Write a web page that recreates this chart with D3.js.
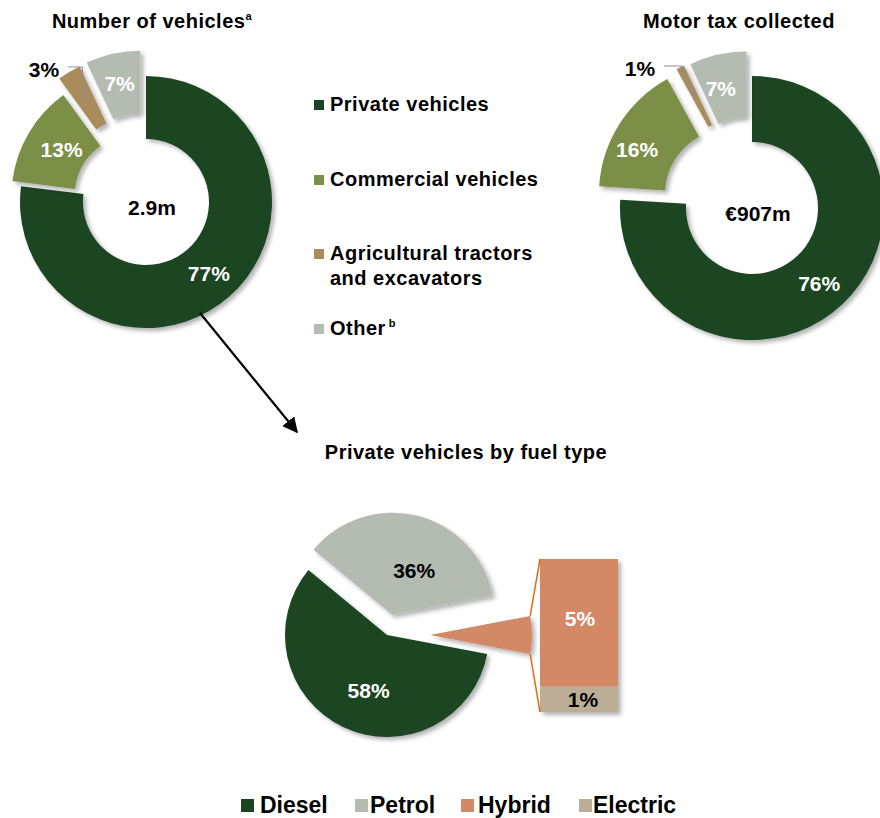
<!DOCTYPE html>
<html>
<head>
<meta charset="utf-8">
<script src="https://cdn.jsdelivr.net/npm/d3@7"></script>
<style>
  html, body { margin: 0; padding: 0; background: #ffffff; }
  svg { display: block; font-family: "Liberation Sans", Arial, sans-serif; }
  text { font-weight: bold; }
  .wide { letter-spacing: 0.5px; }
</style>
</head>
<body>
<svg id="chart" width="880" height="818"></svg>
<script>
// Vehicle fleet and motor tax shares (%)
const vehicleCategories = ["Private vehicles", "Commercial vehicles", "Agricultural tractors and excavators", "Other"];
const vehicleShares = [77, 13, 3, 7];
const taxShares = [76, 16, 1, 7];
const vehicleTotal = "2.9m";
const taxTotal = "€907m";

// Private vehicles by fuel type (%)
const fuelTypes = ["Diesel", "Petrol", "Hybrid", "Electric"];
const fuelShares = [58, 36, 5, 1];

const categoryColors = ["#1b4421", "#7b8f47", "#a98b5c", "#b4bbb1"];
const fuelColors = ["#1b4421", "#b4bbb1", "#d38866", "#bcae96"];

const svg = d3.select("#chart");

// soft drop shadow used on all slices and the bar
const defs = svg.append("defs");
const shadow = defs.append("filter").attr("id", "shadow")
  .attr("x", "-20%").attr("y", "-20%").attr("width", "140%").attr("height", "140%");
shadow.append("feDropShadow")
  .attr("dx", 3).attr("dy", 3).attr("stdDeviation", 2.2)
  .attr("flood-color", "#000").attr("flood-opacity", 0.3);

defs.append("marker").attr("id", "arrowhead")
  .attr("viewBox", "0 0 10 10").attr("refX", 9).attr("refY", 5)
  .attr("markerWidth", 7).attr("markerHeight", 7)
  .attr("markerUnits", "strokeWidth").attr("orient", "auto")
  .append("path").attr("d", "M0,0 L10,5 L0,10 Z").attr("fill", "#000");

function pct(v) { return v + "%"; }

// Exploded donut: private slice stays in place, the rest are pulled outward
function donut(opts) {
  const { cx, cy, outer, inner, values, explode, total, leader, nudge } = opts;
  const pie = d3.pie().sort(null).value(d => d)(values);
  const arc = d3.arc().innerRadius(inner).outerRadius(outer);
  const g = svg.append("g").attr("transform", `translate(${cx},${cy})`);

  const slices = g.selectAll("g.slice").data(pie).join("g")
    .attr("class", "slice")
    .attr("transform", (d, i) => {
      const a = (d.startAngle + d.endAngle) / 2;
      const e = explode[i];
      return `translate(${Math.sin(a) * e},${-Math.cos(a) * e})`;
    });

  slices.append("path")
    .attr("d", arc)
    .attr("fill", (d, i) => categoryColors[i])
    .attr("filter", "url(#shadow)");

  slices.each(function (d, i) {
    const c = arc.centroid(d);
    const sel = d3.select(this);
    if (i === leader.index) {
      // small slice: label outside with a leader line
      const a = (d.startAngle + d.endAngle) / 2;
      const e = explode[i];
      const ox = Math.sin(a) * e, oy = -Math.cos(a) * e;
      const lx = leader.x - cx - ox, ly = leader.y - cy - oy;
      sel.append("polyline")
        .attr("points", [[lx + 24, ly - 3], [c[0] + leader.elbow, ly - 3], [c[0], c[1]]].map(p => p.join(",")).join(" "))
        .attr("fill", "none").attr("stroke", "#8c8f94").attr("stroke-width", 1.2);
      sel.append("text")
        .attr("x", lx).attr("y", ly)
        .attr("text-anchor", "middle").attr("dy", "0.35em")
        .attr("font-size", 21).attr("fill", "#000")
        .text(pct(values[i]));
    } else {
      const lc = d3.arc().innerRadius(opts.labelR).outerRadius(opts.labelR).centroid(d);
      sel.append("text")
        .attr("x", lc[0] + nudge[i][0]).attr("y", lc[1] + nudge[i][1])
        .attr("text-anchor", "middle").attr("dy", "0.35em")
        .attr("font-size", 21).attr("fill", "#fff")
        .text(pct(values[i]));
    }
  });

  g.append("text")
    .attr("x", 6).attr("y", 6)
    .attr("text-anchor", "middle").attr("dy", "0.35em")
    .attr("font-size", 21).attr("fill", "#000")
    .text(total);
}

// Titles
const t1 = svg.append("text").attr("class", "wide").attr("x", 152).attr("y", 28)
  .attr("text-anchor", "middle").attr("font-size", 20);
t1.append("tspan").text("Number of vehicles");
t1.append("tspan").attr("font-size", 11).attr("dy", -8).text("a");

svg.append("text").attr("class", "wide").attr("x", 739).attr("y", 28).attr("text-anchor", "middle")
  .attr("font-size", 20).text("Motor tax collected");

donut({
  cx: 146, cy: 202, outer: 126, inner: 63, labelR: 95,
  values: vehicleShares, explode: [0, 10, 25, 26], total: vehicleTotal,
  nudge: [[0, 0], [6, 1], [0, 0], [0, 0]],
  leader: { index: 2, x: 44, y: 70, elbow: -3 }
});

donut({
  cx: 752, cy: 208, outer: 132, inner: 66, labelR: 104,
  values: taxShares, explode: [0, 25, 26, 25], total: taxTotal,
  nudge: [[-4, 0], [-6, 11], [0, 0], [-3, 7]],
  leader: { index: 2, x: 640, y: 69, elbow: -14 }
});

// Category legend
const legendRows = [
  { lines: ["Private vehicles"], y: 111 },
  { lines: ["Commercial vehicles"], y: 186 },
  { lines: ["Agricultural tractors", "and excavators"], y: 260 },
  { lines: ["Other"], y: 335, sup: "b" }
];
const leg = svg.append("g");
legendRows.forEach((row, i) => {
  leg.append("rect").attr("x", 314).attr("y", row.y - 11).attr("width", 10).attr("height", 10)
    .attr("fill", categoryColors[i]);
  const t = leg.append("text").attr("class", "wide").attr("x", 330).attr("y", row.y)
    .attr("font-size", 20).attr("fill", "#000");
  row.lines.forEach((ln, k) => {
    t.append("tspan").attr("x", 330).attr("dy", k === 0 ? 0 : 25).text(ln);
  });
  if (row.sup) {
    t.append("tspan").attr("dx", 3).attr("dy", -8).attr("font-size", 11).text(row.sup);
  }
});

// Arrow pointing from the private slice to the fuel breakdown
svg.append("line")
  .attr("x1", 200).attr("y1", 313).attr("x2", 297).attr("y2", 432)
  .attr("stroke", "#000").attr("stroke-width", 2.2)
  .attr("marker-end", "url(#arrowhead)");

svg.append("text").attr("class", "wide").attr("x", 466).attr("y", 459).attr("text-anchor", "middle")
  .attr("font-size", 20).text("Private vehicles by fuel type");

// Pie of pie: diesel, petrol and the combined hybrid+electric slice
const pcx = 387, pcy = 635, pR = 102;
const secondaryTotal = fuelShares[2] + fuelShares[3];
const mainValues = [fuelShares[0], fuelShares[1], secondaryTotal];
const span = 2 * Math.PI * secondaryTotal / d3.sum(mainValues);
const start = Math.PI / 2 + span / 2;
const fuelPie = d3.pie().sort(null).value(d => d)
  .startAngle(start).endAngle(start + 2 * Math.PI)(mainValues);
const fuelArc = d3.arc().innerRadius(0).outerRadius(pR);
const fuelExplode = [0, 21, 43];
const pieG = svg.append("g").attr("transform", `translate(${pcx},${pcy})`);

const offset = (d, i) => {
  const a = (d.startAngle + d.endAngle) / 2;
  return [Math.sin(a) * fuelExplode[i], -Math.cos(a) * fuelExplode[i]];
};

const fuelSlices = pieG.selectAll("g.fs").data(fuelPie).join("g")
  .attr("class", "fs")
  .attr("transform", (d, i) => `translate(${offset(d, i)})`);
fuelSlices.append("path")
  .attr("d", fuelArc)
  .attr("fill", (d, i) => fuelColors[i])
  .attr("filter", "url(#shadow)");
const fuelLabelR = [62, 52];
const fuelNudge = [[8, 0], [9, 6]];
fuelSlices.filter((d, i) => i < 2).append("text")
  .attr("transform", (d, i) => {
    const c = d3.arc().innerRadius(fuelLabelR[i]).outerRadius(fuelLabelR[i]).centroid(d);
    return `translate(${c[0] + fuelNudge[i][0]},${c[1] + fuelNudge[i][1]})`;
  })
  .attr("text-anchor", "middle").attr("dy", "0.35em")
  .attr("font-size", 21)
  .attr("fill", (d, i) => i === 0 ? "#fff" : "#000")
  .text((d, i) => pct(fuelShares[i]));

// Secondary stacked bar for hybrid and electric
const barX = 540, barW = 78;
const yBar = d3.scaleLinear().domain([0, secondaryTotal]).range([712, 559]);
const stack = [
  { key: fuelTypes[3], v0: 0, v1: fuelShares[3], color: fuelColors[3], text: "#000" },
  { key: fuelTypes[2], v0: fuelShares[3], v1: fuelShares[3] + fuelShares[2], color: fuelColors[2], text: "#fff" }
];
const barG = svg.append("g").attr("filter", "url(#shadow)");
barG.selectAll("rect").data(stack).join("rect")
  .attr("x", barX).attr("width", barW)
  .attr("y", d => yBar(d.v1)).attr("height", d => yBar(d.v0) - yBar(d.v1))
  .attr("fill", d => d.color);
svg.selectAll("text.barlabel").data(stack).join("text")
  .attr("class", "barlabel")
  .attr("x", (d, i) => barX + barW / 2 + (i === 0 ? 4 : 1))
  .attr("y", (d, i) => (yBar(d.v0) + yBar(d.v1)) / 2 - (i === 1 ? 4 : 0))
  .attr("text-anchor", "middle").attr("dy", "0.35em")
  .attr("font-size", 21).attr("fill", d => d.text)
  .text(d => pct(fuelShares[fuelTypes.indexOf(d.key)]));

// connector lines from the exploded slice to the bar
const ws = fuelPie[2];
const wo = offset(ws, 2);
const cornerTop = [pcx + wo[0] + Math.sin(ws.startAngle) * pR, pcy + wo[1] - Math.cos(ws.startAngle) * pR];
const cornerBot = [pcx + wo[0] + Math.sin(ws.endAngle) * pR, pcy + wo[1] - Math.cos(ws.endAngle) * pR];
svg.append("line")
  .attr("x1", cornerTop[0]).attr("y1", cornerTop[1]).attr("x2", barX).attr("y2", yBar(secondaryTotal))
  .attr("stroke", "#e46c0a").attr("stroke-width", 1.5);
svg.append("line")
  .attr("x1", cornerBot[0]).attr("y1", cornerBot[1]).attr("x2", barX).attr("y2", yBar(0))
  .attr("stroke", "#e46c0a").attr("stroke-width", 1.5);

// Fuel legend
const fuelLegend = [
  { sx: 241, tx: 260 },
  { sx: 355, tx: 370 },
  { sx: 461, tx: 478 },
  { sx: 579, tx: 593 }
];
const fl = svg.append("g");
fuelTypes.forEach((f, i) => {
  fl.append("rect").attr("x", fuelLegend[i].sx).attr("y", 799).attr("width", 13).attr("height", 13)
    .attr("fill", fuelColors[i]);
  fl.append("text").attr("x", fuelLegend[i].tx).attr("y", 813).attr("font-size", 23).text(f);
});
</script>
</body>
</html>
